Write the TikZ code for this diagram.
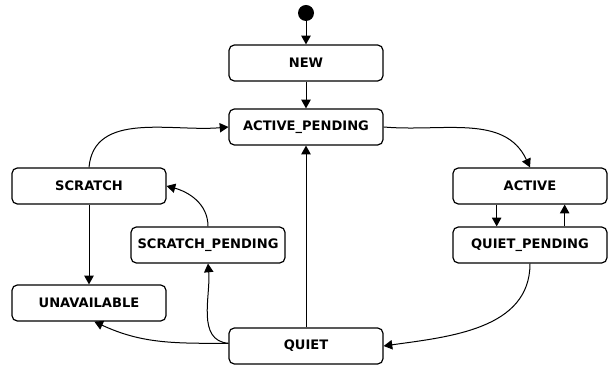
\documentclass[tikz,border=0pt]{standalone}
\usepackage{fontspec}
\newfontfamily\boxfont{DejaVu Sans}
\usetikzlibrary{arrows.meta, positioning}

\begin{document}
\begin{tikzpicture}[
    x=0.75pt, y=0.75pt,
    st-box/.style={draw, line width=0.9pt, rounded corners=4pt, minimum width=115.5pt, minimum height=27pt,
        font=\boxfont\bfseries\fontsize{9.8}{11}\selectfont, inner sep=0pt},
    tr/.style={line width=0.75pt, -{Triangle[width=7pt, length=6.5pt]}}
  ]

  \useasboundingbox (0,0) rectangle (614,366);

  \node[circle, fill, minimum size=12pt, inner sep=0pt] (init) at (306,353) {};

  \node[st-box] (new) at (306,303) {NEW};
  \node[st-box] (apend) at (306,239) {ACTIVE\_PENDING};
  \node[st-box] (scratch) at (89,180) {SCRATCH};
  \node[st-box] (spend) at (208,121) {SCRATCH\_PENDING};
  \node[st-box] (unavail) at (89,63) {UNAVAILABLE};
  \node[st-box] (quiet) at (306,20) {QUIET};
  \node[st-box] (active) at (530,180) {ACTIVE};
  \node[st-box] (qpend) at (530,121) {QUIET\_PENDING};

  \draw[tr] (init) -- (new);
  \draw[tr] (new) -- (apend);
  \draw[tr] (apend.east) to[out=-5, in=115] (active.north);
  \draw[tr] ([xshift=-25pt]active.south) -- ([xshift=-25pt]qpend.north);
  \draw[tr] ([xshift=26pt]qpend.north) -- ([xshift=26pt]active.south);
  \draw[tr] (qpend.south) to[out=-90, in=8] (quiet.east);
  \draw[tr] (quiet.north) -- (apend.south);
  \draw[tr] ([yshift=2pt]quiet.west) to[out=175, in=-85] (spend.south);
  \draw[tr] ([yshift=2pt]quiet.west) to[out=180, in=-25] ([xshift=4pt]unavail.south);
  \draw[tr] (spend.north) to[out=90, in=-15] (scratch.east);
  \draw[tr] (scratch.north) to[out=85, in=185] (apend.west);
  \draw[tr] (scratch.south) -- (unavail.north);

\end{tikzpicture}
\end{document}
